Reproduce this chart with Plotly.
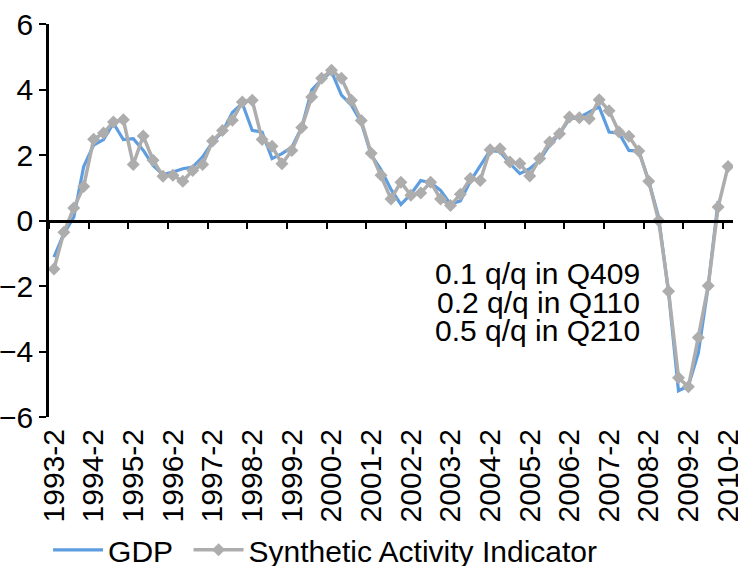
import plotly.graph_objects as go

# Quarterly categories 1993-2 .. 2010-2
quarters = []
for yr in range(1993, 2011):
    for q in range(1, 5):
        if (yr == 1993 and q < 2) or (yr == 2010 and q > 2):
            continue
        quarters.append(f"{yr}-{q}")

sai = [-1.48, -0.36, 0.38, 1.04, 2.48, 2.67, 3.01, 3.08, 1.71, 2.58,
       1.84, 1.35, 1.38, 1.20, 1.53, 1.71, 2.43, 2.75, 3.06, 3.62,
       3.67, 2.47, 2.27, 1.73, 2.14, 2.84, 3.77, 4.34, 4.59, 4.34,
       3.67, 3.05, 2.05, 1.38, 0.66, 1.17, 0.77, 0.84, 1.17, 0.66,
       0.46, 0.80, 1.28, 1.22, 2.16, 2.19, 1.79, 1.74, 1.36, 1.89,
       2.40, 2.65, 3.16, 3.14, 3.11, 3.69, 3.35, 2.70, 2.57, 2.12,
       1.20, 0.00, -2.16, -4.80, -5.08, -3.57, -1.99, 0.41, 1.65]

gdp = [-1.12, -0.40, 0.10, 1.65, 2.30, 2.47, 2.97, 2.47, 2.50, 2.15,
       1.68, 1.40, 1.48, 1.58, 1.63, 1.94, 2.40, 2.70, 3.30, 3.58,
       2.75, 2.70, 1.89, 2.04, 2.24, 2.85, 3.98, 4.30, 4.55, 3.83,
       3.52, 3.00, 2.00, 1.55, 0.95, 0.49, 0.80, 1.22, 1.15, 0.92,
       0.50, 0.60, 1.20, 1.68, 2.14, 2.10, 1.74, 1.43, 1.58, 1.84,
       2.30, 2.65, 3.10, 3.15, 3.32, 3.47, 2.70, 2.67, 2.14, 2.12,
       1.20, 0.10, -2.20, -5.20, -5.05, -4.05, -2.00, 0.60]

tick_labels = quarters[::4]
notes = ["0.1 q/q in Q409", "0.2 q/q in Q110", "0.5 q/q in Q210"]

FONT = "Liberation Sans, Arial, sans-serif"
FS = 30
n = len(quarters)

fig = go.Figure()
fig.add_trace(go.Scatter(
    x=quarters[:len(gdp)], y=gdp, name="GDP", mode="lines",
    line=dict(color="#5E9EE0", width=3.2), xaxis="x", yaxis="y",
    legend="legend"))
fig.add_trace(go.Scatter(
    x=quarters, y=sai, name="Synthetic Activity Indicator", mode="lines+markers",
    line=dict(color="#ADADAD", width=3.5),
    marker=dict(symbol="diamond", size=10, color="#ADADAD"),
    xaxis="x", yaxis="y", legend="legend2"))

annotations = []
for k, t in enumerate(notes):
    annotations.append(dict(
        text=t, xref="paper", yref="paper", x=0.867, y=0.364 - 0.0725 * k,
        xanchor="right", yanchor="middle", showarrow=False,
        font=dict(family=FONT, size=FS, color="black")))

leg_common = dict(orientation="h", xanchor="left", y=-0.338, yanchor="middle",
                  font=dict(size=FS), bgcolor="rgba(0,0,0,0)", itemwidth=50,
                  tracegroupgap=0)

fig.update_layout(
    width=738, height=566,
    margin=dict(l=49, r=5, t=24, b=149, autoexpand=False),
    paper_bgcolor="white", plot_bgcolor="white",
    font=dict(family=FONT, size=FS, color="black"),
    showlegend=True,
    legend=dict(x=-0.0014, **leg_common),
    legend2=dict(x=0.204, **leg_common),
    xaxis=dict(
        type="category", categoryorder="array", categoryarray=quarters,
        range=[-0.5, n - 0.5], anchor="free", position=0.5,
        showline=True, linecolor="black", linewidth=2.5,
        ticks="outside", ticklen=7, tickwidth=1.5, tickcolor="black",
        tickson="boundaries", tickmode="linear", tick0=0, dtick=4,
        showticklabels=False, showgrid=False, zeroline=False),
    xaxis2=dict(
        overlaying="x", anchor="y", side="bottom", type="linear",
        range=[-0.5, n - 0.5],
        tickmode="array", tickvals=list(range(0, n, 4)), ticktext=tick_labels,
        tickangle=-90, ticks="", showline=False, showgrid=False, zeroline=False,
        ticklabelstandoff=5, ticklabeloverflow="allow", tickfont=dict(size=FS)),
    yaxis=dict(
        range=[-6, 6], tickmode="linear", tick0=-6, dtick=2,
        showline=True, linecolor="black", linewidth=2.5,
        ticks="outside", ticklen=7, tickwidth=1.5, tickcolor="black",
        showgrid=False, zeroline=False, ticklabelstandoff=0,
        tickfont=dict(size=FS)),
    annotations=annotations,
)

# invisible trace to activate the label axis
fig.add_trace(go.Scatter(x=[0, n - 1], y=[None, None], xaxis="x2", yaxis="y",
                         showlegend=False, hoverinfo="skip", mode="lines"))

fig.write_html("out.html", config={"displayModeBar": False},
               post_script="document.body.style.margin='0px';document.body.style.overflow='hidden';")
